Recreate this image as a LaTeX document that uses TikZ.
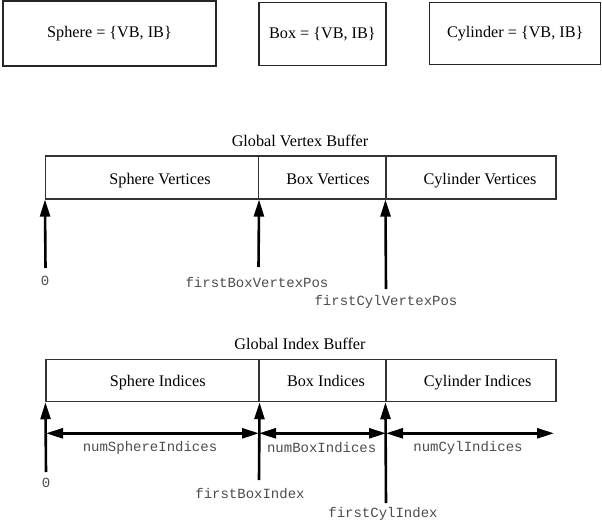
\documentclass[tikz,border=0pt]{standalone}
\usepackage{fontspec}
\setmainfont{Liberation Serif}
\setmonofont{Liberation Mono}
\usetikzlibrary{arrows.meta}
\begin{document}
\begin{tikzpicture}[x=1pt, y=-1pt,
  objbox/.style={draw=black!85, line width=1.2pt, font=\fontsize{16.2}{18}\selectfont},
  cell/.style={draw=black!80, line width=1.1pt, inner sep=0pt},
  celltext/.style={font=\fontsize{16.2}{18}\selectfont, anchor=base},
  codetext/.style={font=\ttfamily\fontsize{14}{16}\selectfont, text=black!70},
  pointer/.style={line width=2.6pt, -{Triangle[length=17pt,width=10pt]}},
  span/.style={line width=2.6pt, {Triangle[length=17pt,width=10pt]}-{Triangle[length=17pt,width=10pt]}}]
  \useasboundingbox (0,0) rectangle (602,527);

  % the three objects
  \node[objbox, minimum width=213pt, minimum height=65pt] (sphere) at (109.5, 33.5) {Sphere = \{VB, IB\}};
  \node[objbox, minimum width=127pt, minimum height=63pt] (box) at (322.4, 34.4) {Box = \{VB, IB\}};
  \node[objbox, minimum width=171pt, minimum height=62pt] (cyl) at (515.2, 33.9) {Cylinder = \{VB, IB\}};

  % vertex buffer
  \node[celltext] (vtitle) at (300, 146) {Global Vertex Buffer};
  \node[cell, minimum width=213pt, minimum height=43pt] (vsph) at (152, 177.5) {};
  \node[cell, minimum width=127.5pt, minimum height=43pt] (vbox) at (322.25, 177.5) {};
  \node[cell, minimum width=170pt, minimum height=43pt] (vcyl) at (471, 177.5) {};
  \node[celltext] (vsphtxt) at (160, 184) {Sphere Vertices};
  \node[celltext] (vboxtxt) at (328, 184) {Box Vertices};
  \node[celltext] (vcyltxt) at (480, 184) {Cylinder Vertices};

  \coordinate (v0) at (45.5, 268);
  \coordinate (vb) at (258.5, 267);
  \coordinate (vc) at (386, 289);
  \draw[pointer] (v0) -- (vsph.south west);
  \draw[pointer] (vb) -- (vsph.south east);
  \draw[pointer] (vc) -- (vcyl.south west);
  \node[codetext] (v0lbl) at (45, 281) {0};
  \node[codetext] (vblbl) at (257, 282) {firstBoxVertexPos};
  \node[codetext] (vclbl) at (386, 302) {firstCylVertexPos};

  % index buffer
  \node[celltext] (ititle) at (300, 349) {Global Index Buffer};
  \node[cell, minimum width=213pt, minimum height=42.4pt] (isph) at (152.5, 380.5) {};
  \node[cell, minimum width=127pt, minimum height=42.4pt] (ibox) at (322.5, 380.5) {};
  \node[cell, minimum width=170pt, minimum height=42.4pt] (icyl) at (471, 380.5) {};
  \node[celltext] (isphtxt) at (157.7, 386.5) {Sphere Indices};
  \node[celltext] (iboxtxt) at (326, 386.5) {Box Indices};
  \node[celltext] (icyltxt) at (477.7, 386.5) {Cylinder Indices};

  \coordinate (i0) at (46, 472);
  \coordinate (ib) at (259, 480);
  \coordinate (ic) at (386, 503);
  \draw[pointer] (i0) -- (isph.south west);
  \draw[pointer] (ib) -- (isph.south east);
  \draw[pointer] (ic) -- (icyl.south west);

  \coordinate (s0) at (46, 433.3);
  \coordinate (s1) at (259, 433.3);
  \coordinate (s2) at (386, 433.3);
  \coordinate (s3) at (554, 433.3);
  \draw[span] (s0) -- (s1);
  \draw[span] (s1) -- (s2);
  \draw[span] (s2) -- (s3);
  \node[codetext] (nsph) at (150, 448) {numSphereIndices};
  \node[codetext] (nbox) at (321.7, 448) {numBoxIndices};
  \node[codetext] (ncyl) at (468, 448) {numCylIndices};

  \node[codetext] (i0lbl) at (46, 483) {0};
  \node[codetext] (iblbl) at (250, 494) {firstBoxIndex};
  \node[codetext] (iclbl) at (383, 514) {firstCylIndex};
\end{tikzpicture}
\end{document}
